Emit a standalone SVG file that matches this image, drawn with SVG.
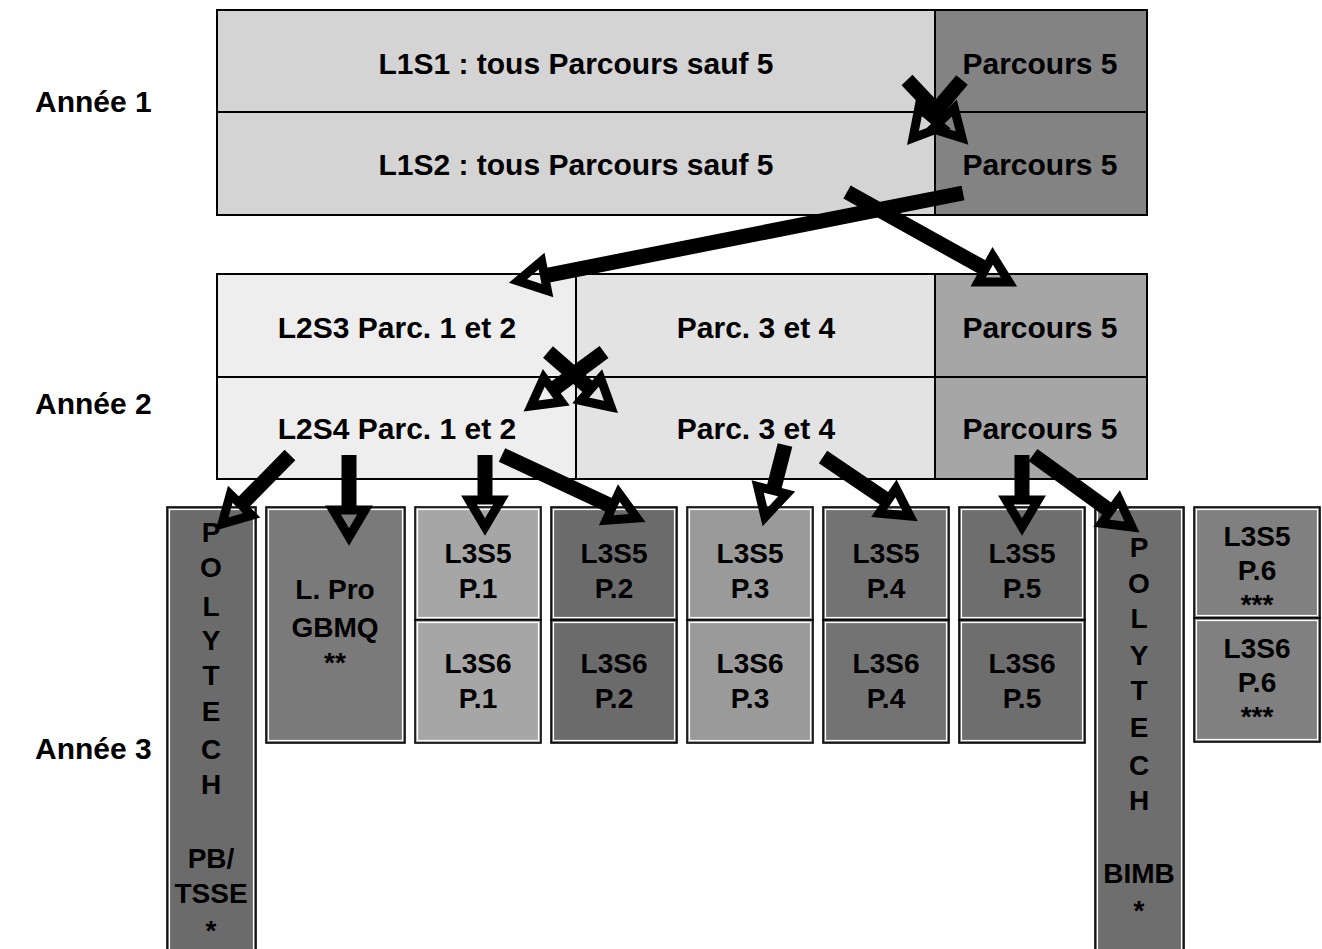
<svg xmlns="http://www.w3.org/2000/svg" width="1322" height="949" viewBox="0 0 1322 949">
<style>
.t{font-family:"Liberation Sans",Arial,sans-serif;font-weight:bold;fill:#000;text-anchor:middle}
.yr{font-size:30px;text-anchor:start}
.big{font-size:30px}
.mid{font-size:28px}
.ast{font-size:28px}
.cell{stroke:#000;stroke-width:2}
.ob{stroke:#000;stroke-width:1.6}
.ib{fill:none;stroke:#fff;stroke-width:1.2}
.shaft{stroke:#000;stroke-width:15;fill:none}
.head{fill:none;stroke:#000;stroke-width:9;stroke-linejoin:miter}
</style>
<rect width="1322" height="949" fill="#fff"/>

<g id="labels">
<text class="t yr" x="35" y="112">Année 1</text>
<text class="t yr" x="35" y="414">Année 2</text>
<text class="t yr" x="35" y="759">Année 3</text>
</g>

<g id="annee1">
<rect class="cell" x="217" y="10" width="718" height="102" fill="#d4d4d4"/>
<rect class="cell" x="935" y="10" width="212" height="102" fill="#838383"/>
<rect class="cell" x="217" y="112" width="718" height="103" fill="#d4d4d4"/>
<rect class="cell" x="935" y="112" width="212" height="103" fill="#838383"/>
<text class="t big" x="576" y="74">L1S1 : tous Parcours sauf 5</text>
<text class="t big" x="1040" y="74">Parcours 5</text>
<text class="t big" x="576" y="175">L1S2 : tous Parcours sauf 5</text>
<text class="t big" x="1040" y="175">Parcours 5</text>
</g>

<g id="annee2">
<rect class="cell" x="217" y="274" width="359" height="103" fill="#eeeeee"/>
<rect class="cell" x="576" y="274" width="359" height="103" fill="#e3e3e3"/>
<rect class="cell" x="935" y="274" width="212" height="103" fill="#a6a6a6"/>
<rect class="cell" x="217" y="377" width="359" height="102" fill="#eeeeee"/>
<rect class="cell" x="576" y="377" width="359" height="102" fill="#e3e3e3"/>
<rect class="cell" x="935" y="377" width="212" height="102" fill="#a6a6a6"/>
<text class="t big" x="397" y="338">L2S3 Parc. 1 et 2</text>
<text class="t big" x="756" y="338">Parc. 3 et 4</text>
<text class="t big" x="1040" y="338">Parcours 5</text>
<text class="t big" x="397" y="439">L2S4 Parc. 1 et 2</text>
<text class="t big" x="756" y="439">Parc. 3 et 4</text>
<text class="t big" x="1040" y="439">Parcours 5</text>
</g>

<g id="polytech1">
<rect class="ob" x="167" y="507" width="89" height="450" fill="#6b6b6b"/>
<rect class="ib" x="169.5" y="509.5" width="84" height="445"/>
<g class="t mid">
<text x="211" y="542">P</text><text x="211" y="577">O</text><text x="211" y="616">L</text>
<text x="211" y="650">Y</text><text x="211" y="685">T</text><text x="211" y="721">E</text>
<text x="211" y="759">C</text><text x="211" y="794">H</text>
<text x="211" y="868">PB/</text><text x="211" y="903">TSSE</text>
</g>
<text class="t ast" x="211" y="940">*</text>
</g>

<g id="lpro">
<rect class="ob" x="266" y="507" width="139" height="236" fill="#7a7a7a"/>
<rect class="ib" x="268.5" y="509.5" width="134" height="231"/>
<text class="t mid" x="335" y="599">L. Pro</text>
<text class="t mid" x="335" y="637">GBMQ</text>
<text class="t ast" x="335" y="672">**</text>
</g>

<g id="p1">
<rect class="ob" x="415" y="507" width="126" height="113" fill="#a6a6a6"/>
<rect class="ib" x="417.5" y="509.5" width="121" height="108"/>
<rect class="ob" x="415" y="620" width="126" height="123" fill="#a6a6a6"/>
<rect class="ib" x="417.5" y="622.5" width="121" height="118"/>
<text class="t mid" x="478" y="563">L3S5</text><text class="t mid" x="478" y="598">P.1</text>
<text class="t mid" x="478" y="673">L3S6</text><text class="t mid" x="478" y="708">P.1</text>
</g>

<g id="p2">
<rect class="ob" x="551" y="507" width="126" height="113" fill="#6b6b6b"/>
<rect class="ib" x="553.5" y="509.5" width="121" height="108"/>
<rect class="ob" x="551" y="620" width="126" height="123" fill="#6b6b6b"/>
<rect class="ib" x="553.5" y="622.5" width="121" height="118"/>
<text class="t mid" x="614" y="563">L3S5</text><text class="t mid" x="614" y="598">P.2</text>
<text class="t mid" x="614" y="673">L3S6</text><text class="t mid" x="614" y="708">P.2</text>
</g>

<g id="p3">
<rect class="ob" x="687" y="507" width="126" height="113" fill="#9a9a9a"/>
<rect class="ib" x="689.5" y="509.5" width="121" height="108"/>
<rect class="ob" x="687" y="620" width="126" height="123" fill="#9a9a9a"/>
<rect class="ib" x="689.5" y="622.5" width="121" height="118"/>
<text class="t mid" x="750" y="563">L3S5</text><text class="t mid" x="750" y="598">P.3</text>
<text class="t mid" x="750" y="673">L3S6</text><text class="t mid" x="750" y="708">P.3</text>
</g>

<g id="p4">
<rect class="ob" x="823" y="507" width="126" height="113" fill="#737373"/>
<rect class="ib" x="825.5" y="509.5" width="121" height="108"/>
<rect class="ob" x="823" y="620" width="126" height="123" fill="#737373"/>
<rect class="ib" x="825.5" y="622.5" width="121" height="118"/>
<text class="t mid" x="886" y="563">L3S5</text><text class="t mid" x="886" y="598">P.4</text>
<text class="t mid" x="886" y="673">L3S6</text><text class="t mid" x="886" y="708">P.4</text>
</g>

<g id="p5">
<rect class="ob" x="959" y="507" width="126" height="113" fill="#6e6e6e"/>
<rect class="ib" x="961.5" y="509.5" width="121" height="108"/>
<rect class="ob" x="959" y="620" width="126" height="123" fill="#6e6e6e"/>
<rect class="ib" x="961.5" y="622.5" width="121" height="118"/>
<text class="t mid" x="1022" y="563">L3S5</text><text class="t mid" x="1022" y="598">P.5</text>
<text class="t mid" x="1022" y="673">L3S6</text><text class="t mid" x="1022" y="708">P.5</text>
</g>

<g id="polytech2">
<rect class="ob" x="1095" y="507" width="89" height="450" fill="#6e6e6e"/>
<rect class="ib" x="1097.5" y="509.5" width="84" height="445"/>
<g class="t mid">
<text x="1139" y="557">P</text><text x="1139" y="593">O</text><text x="1139" y="628">L</text>
<text x="1139" y="665">Y</text><text x="1139" y="700">T</text><text x="1139" y="737">E</text>
<text x="1139" y="775">C</text><text x="1139" y="810">H</text>
<text x="1139" y="883">BIMB</text>
</g>
<text class="t ast" x="1139" y="920">*</text>
</g>

<g id="p6">
<rect class="ob" x="1194" y="507" width="126" height="111" fill="#808080"/>
<rect class="ib" x="1196.5" y="509.5" width="121" height="106"/>
<rect class="ob" x="1194" y="618" width="126" height="124" fill="#808080"/>
<rect class="ib" x="1196.5" y="620.5" width="121" height="119"/>
<text class="t mid" x="1257" y="546">L3S5</text><text class="t mid" x="1257" y="580">P.6</text>
<text class="t ast" x="1257" y="614">***</text>
<text class="t mid" x="1257" y="658">L3S6</text><text class="t mid" x="1257" y="692">P.6</text>
<text class="t ast" x="1257" y="726">***</text>
</g>

<g id="connectors">
<line class="shaft" x1="962" y1="80" x2="930.4" y2="117.4"/>
<polygon class="head" points="913,138 918.9,107.7 941.9,127.1"/>
<line class="shaft" x1="907" y1="80" x2="943.4" y2="118.4"/>
<polygon class="head" points="962,138 932.5,128.7 954.3,108.1"/>
<line class="shaft" x1="963" y1="193" x2="544.5" y2="275.8"/>
<polygon class="head" points="518,281 541.6,261.1 547.4,290.5"/>
<line class="shaft" x1="847" y1="192" x2="985.4" y2="268.9"/>
<polygon class="head" points="1009,282 978.1,282 992.7,255.8"/>
<line class="shaft" x1="604" y1="352" x2="552.7" y2="389.9"/>
<polygon class="head" points="531,406 543.8,377.8 561.6,402"/>
<line class="shaft" x1="548" y1="352" x2="590.6" y2="389.2"/>
<polygon class="head" points="611,407 580.7,400.5 600.5,377.9"/>
<line class="shaft" x1="290" y1="455" x2="241" y2="504.8"/>
<polygon class="head" points="222,524 230.3,494.3 251.7,515.3"/>
<line class="shaft" x1="349" y1="455" x2="349" y2="510"/>
<polygon class="head" points="349,537 333,510 365,510"/>
<line class="shaft" x1="485" y1="455" x2="485" y2="500"/>
<polygon class="head" points="485,527 469,500 501,500"/>
<line class="shaft" x1="502" y1="455" x2="612.5" y2="506.6"/>
<polygon class="head" points="637,518 606.2,520.2 618.8,493"/>
<line class="shaft" x1="785" y1="445" x2="772.7" y2="492.8"/>
<polygon class="head" points="765,517 757.7,486.5 786.7,493.9"/>
<line class="shaft" x1="823" y1="457" x2="887.6" y2="500.8"/>
<polygon class="head" points="910,516 879.2,513.2 896,488.4"/>
<line class="shaft" x1="1022" y1="455" x2="1022" y2="500"/>
<polygon class="head" points="1022,527 1006,500 1038,500"/>
<line class="shaft" x1="1033" y1="455" x2="1110.2" y2="511.1"/>
<polygon class="head" points="1132,527 1101.4,523.2 1119,499"/>
</g>
</svg>
